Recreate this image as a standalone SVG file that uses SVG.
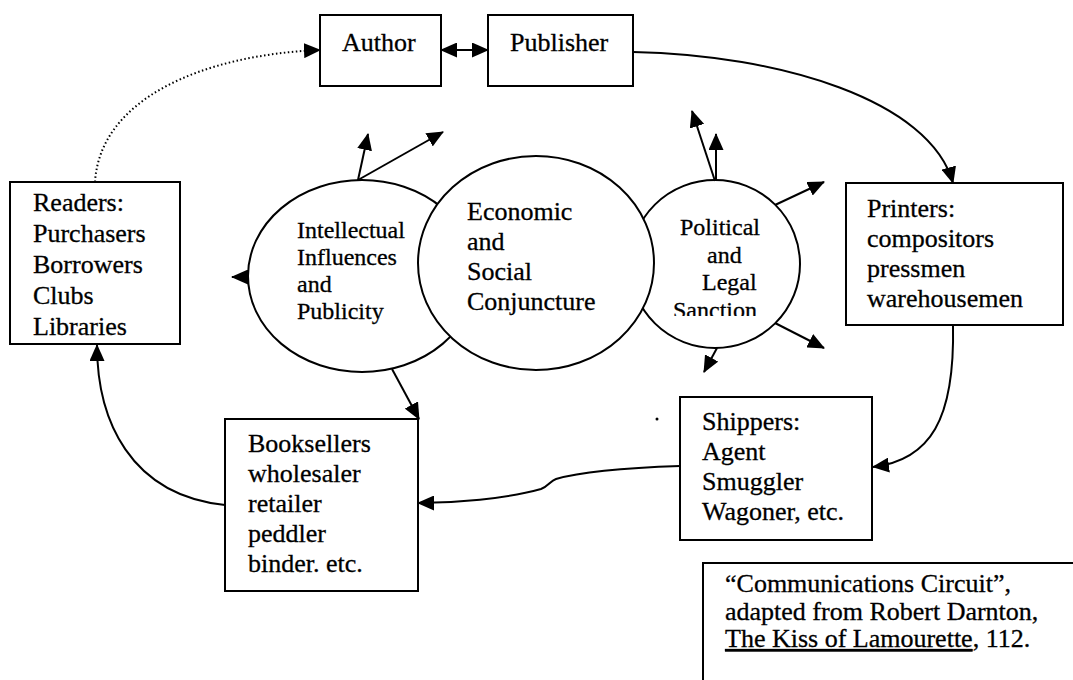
<svg xmlns="http://www.w3.org/2000/svg" width="1073" height="680" viewBox="0 0 1073 680">
<style>
  .box { fill: #fff; stroke: #000; stroke-width: 2; }
  .circ { fill: #fff; stroke: #000; stroke-width: 2; }
  .t { font-family: "Liberation Serif", "Times New Roman", serif; font-size: 26px; fill: #000; stroke: #000; stroke-width: 0.3; }
  .ts { font-family: "Liberation Serif", "Times New Roman", serif; font-size: 24px; fill: #000; stroke: #000; stroke-width: 0.3; }
  .c { fill: none; stroke: #000; stroke-width: 2; }
  .dot { fill: none; stroke: #000; stroke-width: 2; stroke-dasharray: 1.5 2.5; }
</style>
<defs>
  <marker id="ah" markerUnits="userSpaceOnUse" markerWidth="17" markerHeight="15" refX="16" refY="7.5" orient="auto-start-reverse">
    <path d="M0,0 L17,7.5 L0,15 z" fill="#000"/>
  </marker>
  <clipPath id="sancClip"><rect x="600" y="290" width="200" height="26"/></clipPath>
</defs>
<rect width="1073" height="680" fill="#fff"/>

<g id="circle-intellectual">
  <ellipse class="circ" cx="362" cy="276" rx="114" ry="96"/>
  <text class="ts" x="297" y="238">Intellectual</text>
  <text class="ts" x="297" y="265">Influences</text>
  <text class="ts" x="297" y="292">and</text>
  <text class="ts" x="297" y="319">Publicity</text>
</g>
<g id="circle-political">
  <ellipse class="circ" cx="715" cy="264" rx="85" ry="84"/>
  <text class="ts" x="680" y="235">Political</text>
  <text class="ts" x="707" y="263">and</text>
  <text class="ts" x="702" y="290">Legal</text>
  <text class="ts" x="673" y="318" clip-path="url(#sancClip)">Sanction</text>
</g>
<g id="circle-economic">
  <ellipse class="circ" cx="536" cy="263" rx="118" ry="107"/>
  <text class="t" x="467" y="220">Economic</text>
  <text class="t" x="467" y="250">and</text>
  <text class="t" x="467" y="280">Social</text>
  <text class="t" x="467" y="310">Conjuncture</text>
</g>

<g id="connectors">
  <path class="c" d="M441,50 H488" marker-start="url(#ah)" marker-end="url(#ah)"/>
  <path class="dot" d="M95,182 C100,100 200,55 320,50" marker-end="url(#ah)"/>
  <path class="c" d="M633,52 C780,55 930,100 953,183" marker-end="url(#ah)"/>
  <path class="c" d="M953,325 C955,420 930,460 873,467" marker-end="url(#ah)"/>
  <path class="c" d="M680,466 C620,468 580,472 556,479 C550,481 549,486 541,489 C505,499 455,503 418,503" marker-end="url(#ah)"/>
  <path class="c" d="M225,505 C130,495 97,420 97,345" marker-end="url(#ah)"/>
  <path class="c" d="M358,180 L368,134" marker-end="url(#ah)"/>
  <path class="c" d="M358,180 L443,132" marker-end="url(#ah)"/>
  <path class="c" d="M249,277 L232,277" marker-end="url(#ah)"/>
  <path class="c" d="M392,369 L419,419" marker-end="url(#ah)"/>
  <path class="c" d="M715,181 L692,111" marker-end="url(#ah)"/>
  <path class="c" d="M716,181 L716,134" marker-end="url(#ah)"/>
  <path class="c" d="M775,205 L824,182" marker-end="url(#ah)"/>
  <path class="c" d="M775,323 L824,348" marker-end="url(#ah)"/>
  <path class="c" d="M717,348 L704,372" marker-end="url(#ah)"/>
</g>

<g id="author">
  <rect class="box" x="320" y="15" width="121" height="71"/>
  <text class="t" x="342" y="51">Author</text>
</g>
<g id="publisher">
  <rect class="box" x="488" y="15" width="145" height="71"/>
  <text class="t" x="510" y="51">Publisher</text>
</g>
<g id="readers">
  <rect class="box" x="10" y="182" width="170" height="162"/>
  <text class="t" x="33" y="211">Readers:</text>
  <text class="t" x="33" y="242">Purchasers</text>
  <text class="t" x="33" y="273">Borrowers</text>
  <text class="t" x="33" y="304">Clubs</text>
  <text class="t" x="33" y="335">Libraries</text>
</g>
<g id="printers">
  <rect class="box" x="846" y="183" width="217" height="142"/>
  <text class="t" x="867" y="217">Printers:</text>
  <text class="t" x="867" y="247">compositors</text>
  <text class="t" x="867" y="277">pressmen</text>
  <text class="t" x="867" y="307">warehousemen</text>
</g>
<g id="booksellers">
  <rect class="box" x="225" y="419" width="193" height="172"/>
  <text class="t" x="248" y="452">Booksellers</text>
  <text class="t" x="248" y="482">wholesaler</text>
  <text class="t" x="248" y="512">retailer</text>
  <text class="t" x="248" y="542">peddler</text>
  <text class="t" x="248" y="572">binder. etc.</text>
</g>
<g id="shippers">
  <rect class="box" x="680" y="397" width="192" height="143"/>
  <text class="t" x="702" y="430">Shippers:</text>
  <text class="t" x="702" y="460">Agent</text>
  <text class="t" x="702" y="490">Smuggler</text>
  <text class="t" x="702" y="520">Wagoner, etc.</text>
</g>
<g id="citation">
  <path d="M703,690 V563 H1075" fill="none" stroke="#000" stroke-width="2"/>
  <text class="t" x="725" y="592">“Communications Circuit”,</text>
  <text class="t" x="725" y="620">adapted from Robert Darnton,</text>
  <text class="t" x="725" y="647"><tspan text-decoration="underline">The Kiss of Lamourette</tspan>, 112.</text>
</g>
<circle cx="657" cy="419" r="1.5" fill="#000"/>
</svg>
